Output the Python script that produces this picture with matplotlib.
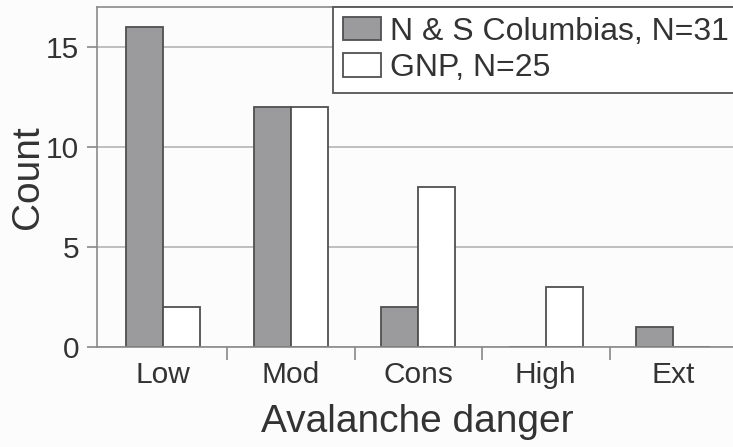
import matplotlib
matplotlib.use('Agg')
import matplotlib.pyplot as plt
import numpy as np

# Datos: número de casos por nivel de peligro
categorias = ['Low', 'Mod', 'Cons', 'High', 'Ext']
columbias = [16, 12, 2, 0, 1]
gnp = [2, 12, 8, 3, 0]

etiqueta_col = 'N & S Columbias, N=31'
etiqueta_gnp = 'GNP, N=25'

plt.rcParams['font.family'] = ['Liberation Sans', 'DejaVu Sans']

fig = plt.figure(figsize=(7.33, 4.47), dpi=100, facecolor='#fcfcfc')
ax = fig.add_axes([97 / 733, 100 / 447, 640 / 733, 340 / 447])
ax.set_facecolor('#fcfcfc')

x = np.arange(len(categorias))
ancho = 0.29
borde = '#505050'

ax.bar(x - ancho / 2, columbias, width=ancho, color='#9b9b9d',
       edgecolor=borde, linewidth=1.3, label=etiqueta_col, zorder=3)
ax.bar(x + ancho / 2, gnp, width=ancho, color='white',
       edgecolor=borde, linewidth=1.3, label=etiqueta_gnp, zorder=3)

ax.set_xlim(-0.52, 4.5)
ax.set_ylim(0, 17)

ax.set_yticks([0, 5, 10, 15])
ax.yaxis.grid(True, color='#b5b5b5', linewidth=1.2, zorder=0)

# Ticks del eje x entre categorías
ax.set_xticks(x)
ax.set_xticklabels(categorias)
ax.set_xticks(x[:-1] + 0.5, minor=True)
ax.tick_params(axis='x', which='major', length=0, pad=10, labelsize=21.5,
               labelcolor='#333333')
ax.tick_params(axis='x', which='minor', length=9, width=1.2, color='#888888')
ax.tick_params(axis='y', length=7, width=1.2, color='#888888', pad=6,
               labelsize=21.5, labelcolor='#333333')

for lado in ['left', 'bottom', 'top', 'right']:
    ax.spines[lado].set_color('#8a8a8a')
    ax.spines[lado].set_linewidth(1.2)
ax.spines['bottom'].set_zorder(4)

ax.set_xlabel('Avalanche danger', fontsize=28, color='#333333', labelpad=11)
ax.set_ylabel('Count', fontsize=28, color='#333333', labelpad=0)

# Leyenda anclada arriba, se extiende más allá del borde derecho
leg = ax.legend(loc='upper left', bbox_to_anchor=(236 / 640, 0, 420 / 640, 1.0),
                mode='expand', borderaxespad=0, fontsize=23, fancybox=False,
                framealpha=1, edgecolor='#555555', handlelength=1.2,
                handleheight=0.75, handletextpad=0.3, labelspacing=0.2,
                borderpad=0.3, labelcolor='#333333')
leg.get_frame().set_linewidth(1.3)

fig.savefig('out.png', dpi=100, facecolor=fig.get_facecolor())
